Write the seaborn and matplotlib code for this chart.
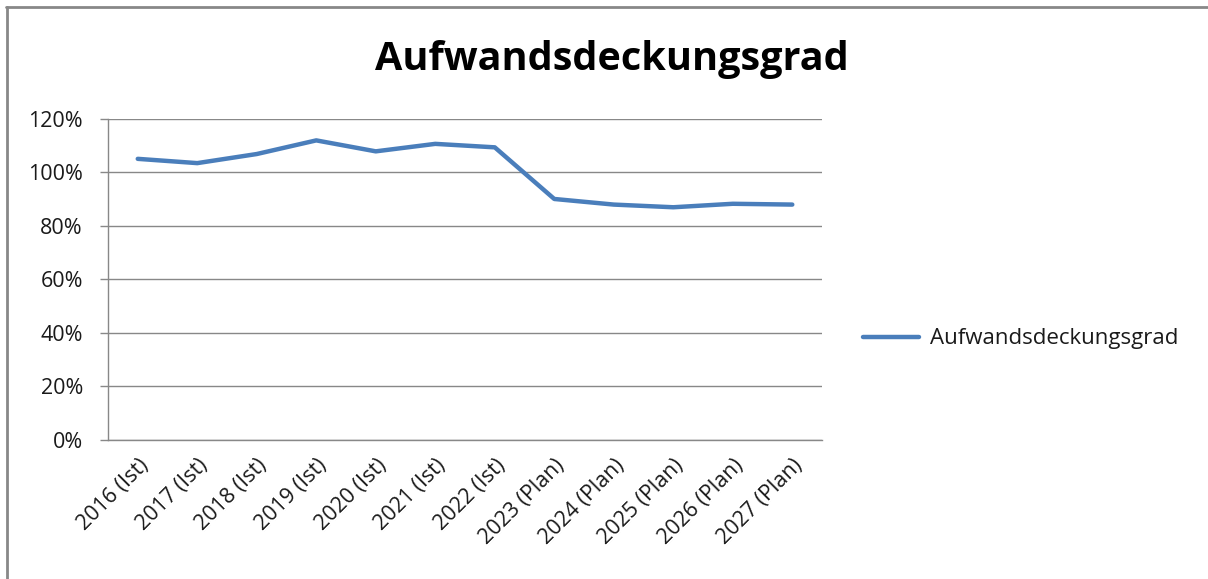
import pandas as pd
import matplotlib.pyplot as plt
import matplotlib.lines as mlines
import seaborn as sns

# Werte
jahre = ['2016 (Ist)', '2017 (Ist)', '2018 (Ist)', '2019 (Ist)', '2020 (Ist)', '2021 (Ist)',
         '2022 (Ist)', '2023 (Plan)', '2024 (Plan)', '2025 (Plan)', '2026 (Plan)', '2027 (Plan)']
deckungsgrad = [1.051, 1.035, 1.069, 1.120, 1.079, 1.107, 1.094, 0.901, 0.880, 0.870, 0.883, 0.880]
y_ticks = [0, 0.2, 0.4, 0.6, 0.8, 1.0, 1.2]
serie = 'Aufwandsdeckungsgrad'

df = pd.DataFrame({'Jahr': jahre, 'Wert': deckungsgrad})
df['x'] = range(len(df))

sns.set_style('white')
plt.rcParams['font.family'] = ['Open Sans', 'DejaVu Sans']

fig = plt.figure(figsize=(12.08, 5.79), dpi=100)
ax = fig.add_axes([0.0894, 0.2401, 0.5911, 0.5544])

sns.lineplot(data=df, x='x', y='Wert', ax=ax, color='#4A7EBB', linewidth=3.2,
             label=serie, solid_capstyle='round')

ax.set_xlim(-0.5, len(jahre) - 0.5)
ax.set_ylim(0, 1.2)
ax.set_yticks(y_ticks)
ax.set_yticklabels([f'{int(round(v * 100))}%' for v in y_ticks], fontsize=15.5, color='#1a1a1a')
ax.set_xticks([i + 0.5 for i in range(-1, len(jahre))], minor=False)
ax.set_xticklabels([])
ax.set_xticks(df['x'], minor=True)
ax.set_xticklabels(jahre, minor=True, rotation=45, ha='right', rotation_mode='anchor',
                   fontsize=15.5, color='#1a1a1a')
ax.tick_params(axis='x', which='major', length=6, color='#888888', width=1)
ax.tick_params(axis='x', which='minor', length=0, pad=11)
ax.tick_params(axis='y', length=6, color='#888888', width=1, pad=12, direction='out', left=True)
ax.grid(axis='y', color='#888888', linewidth=1)
ax.set_xlabel('')
ax.set_ylabel('')

for s in ['top', 'right']:
    ax.spines[s].set_visible(False)
for s in ['left', 'bottom']:
    ax.spines[s].set_color('#888888')
    ax.spines[s].set_linewidth(1)

leg = ax.legend(loc='center left', bbox_to_anchor=(1.03, 0.315), frameon=False, fontsize=16,
                handlelength=2.5, handletextpad=0.5)
for t in leg.get_texts():
    t.set_color('#1a1a1a')

fig.text(0.5066, 0.898, serie, ha='center', va='center', fontsize=28.5, fontweight='bold',
         color='black')

# Rahmen des Diagrammbereichs (nur oben und links sichtbar)
fig.add_artist(mlines.Line2D([0.005, 1], [0.988, 0.988], transform=fig.transFigure,
                             color='#888888', linewidth=2))
fig.add_artist(mlines.Line2D([0.0055, 0.0055], [0, 0.988], transform=fig.transFigure,
                             color='#888888', linewidth=2))

fig.savefig('out.png', dpi=100)
